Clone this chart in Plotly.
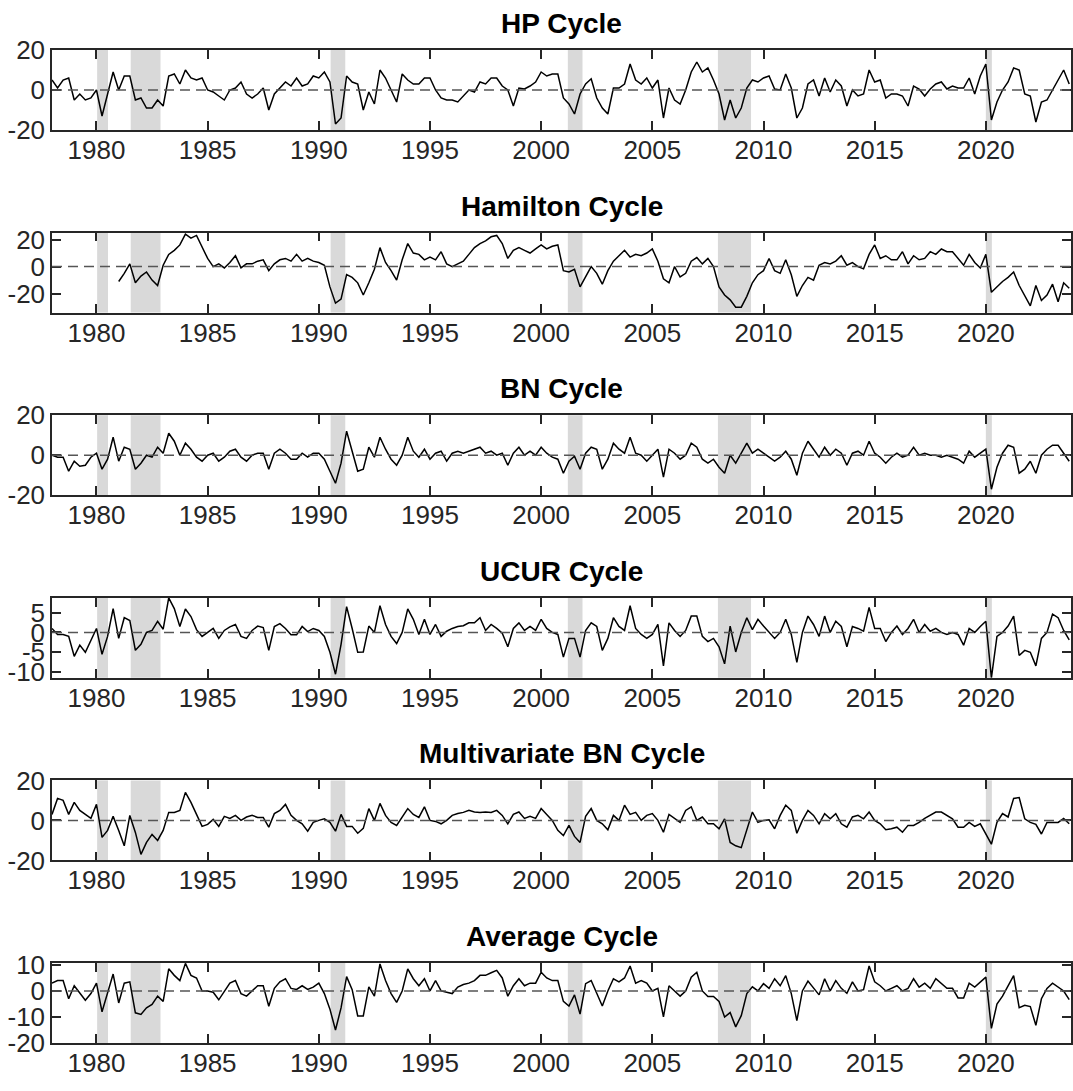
import numpy as np
import plotly.graph_objects as go
from plotly.subplots import make_subplots

# quarterly grid 1978Q1 .. 2023Q4 (decimal years)
years = np.arange(1978, 2024, 0.25)

titles = ["HP Cycle", "Hamilton Cycle", "BN Cycle", "UCUR Cycle",
          "Multivariate BN Cycle", "Average Cycle"]

hp = [
    5, 1, 5, 6,   -5, -2, -5, -4,   0, -13, -2, 9,   0, 7, 7, -5,
    -4, -9, -9, -5,   -8, 7, 8, 3,   10, 6, 5, 6,   0, -1, -3, -5,
    0, 1, 4, -2,   -4, -2, 1, -10,   -2, 1, 4, 2,   6, 2, 3, 7,
    6, 9, 4, -17,   -14, 7, 4, 3,   -10, -1, -7, 10,   6, 0, -6, 8,
    5, 3, 3, 6,   6, 0, -4, -5,   -5, -6, -3, 0,   -1, 4, 3, 6,
    6, 2, 0, -8,   1, 0.5, 2, 4,   9, 7, 8, 8,   -4, -7, -12, -2,
    3, 5.6, -4, -9,   -12, 1, 1, 3,   13, 5, 3, 6,   1, 5, -14, 1,
    -5, -7, 0, 9,   14, 9, 11, 5,   -2, -15, -5, -14,   -9, 1, 5, 4,
    6, 7, 0.5, 0,   8, 1, -14, -9,   3, 5, -3, 6,   -1, 5, 2, -8,
    0, -3, -2, 10,   4, 5, -4, -2,   -2, -3, -8, 2,   0.5, -3, 0.5, 3,
    4, 0.5, 2, 1,   1, 6, -2, 7,   13, -15, -6, 0,   4, 11, 10, -2,
    -3, -16, -6, -5,   0, 5, 10, 3,
]

hamilton = [
    None, None, None, None,   None, None, None, None,   None, None, None, None,
    -11, -5, 2, -12,   -7, -4, -10, -14,   1, 9, 12, 16,   24, 21, 23, 15,
    6, 0, 2, -1,   3, 8, -1, 2,   2, 4, 5, -3,   2, 5, 6, 4,
    9, 4, 6, 4,   3, 1, -15, -27,   -24, -6, -8, -12,   -21, -12, -2, 14,
    3, -3, -10, 5,   17, 10, 9, 5,   7, 5, 11, 2,   0, 2, 4, 9,
    14, 17, 19, 22,   23, 17, 6, 12,   14, 12, 10, 13,   16, 13, 15, 16,
    -3, -4, -2, -15,   -8, 0, -5, -13,   -3, 4, 8, 12,   7, 9, 8, 10,
    13, 4, -9, -12,   0, -7.7, -5, 4,   6.7, 2, 6, 0,   -15, -21, -24.6, -30,
    -30, -22, -12, -6,   -3, 6, -3, -5,   5, -6, -22, -14,   -8, -10, 1, 3,
    2, 4, 8, 1,   3, 0, -1.7, 9,   16, 6, 8, 5,   5, 11, 2, 8,
    5, 6, 11, 9,   13, 11, 11, 6,   1, 9, 3, -1,   9, -19, -15, -11,
    -8, -4, -14, -22,   -29, -14, -25, -21,   -13, -26, -12, -16,
]

bn = [
    0, -1, -1, -8,   -3, -5.5, -5, -1,   1, -7, -2, 9,   -3, 4, 3, -7,
    -4, 0, -1, 4,   1, 11, 7, 0,   6, 3, -1, -3,   0, 1, -3, -1,
    2, 3, -1, -3,   0, 1, 1, -7,   1, 3, 1, -2,   -2, 1, -1, 1,
    1, -2, -8, -14,   -4, 12, 2, -8,   -7, 4, -1, 9,   3, -2, -5, 0,
    9, 2, -1, 3,   -2, 1, 2, -3,   1, 2, 1, 2,   3, 4, 1, 2,
    0, 1, -5, 1,   4, 0, 2, 0,   4, 1, -1, -2,   -9, -3, -0.5, -7,
    1, 4, 3, -7,   -2, 6, 3, 1,   9, 1, 0, -3,   0, 3, -11, 3,
    1, -2, 0, 6,   4, -2, -4, -2,   -6, -9, 0, -4,   1, 6, 1, 3,
    1, -1, -3, -1,   2, -2, -10, 1,   7, 3, -1, 4,   0, 3, 1, -5,
    1, 2, 0, 7,   1, -1, -4, -1,   1, -1, 0, 4,   0, 1, 0, 0,
    -1, 0, -1, -2,   -4, 2, -1, 1,   3, -17, -6, 1,   5, 4, -9, -7,
    -3, -9, 0, 3,   5, 5, 1, -3,
]

ucur = [
    1, -0.5, -0.5, -1,   -6, -3.2, -5, -2,   1, -5.5, -1, 6,   -1.5, 3.7, 3, -4.5,
    -3, 0, 0.5, 2.8,   0.8, 8.7, 6, 1.5,   5.9, 4, 0.7, -1,   0, 1, -1.5, 0.5,
    1.4, 2, -1, -1.5,   0.5, 1.6, 1.2, -4.5,   1.5, 2.2, 1, -0.6,   -0.6, 1.5, 0.2, 1,
    0.5, -1, -5, -10.5,   -3, 6.5, 1, -5,   -4.9, 1.6, 0, 6.7,   2, -1, -2.8, 0,
    5.9, 3.3, -0.5, 3.3,   -0.5, 2, -1, 0.3,   1, 1.5, 1.7, 2.4,   2.4, 3.7, 0.5, 2,
    1, -0.2, -3.6, 1,   2.4, 0.5, 1.5, 0.5,   3.3, 1, 0, -0.5,   -6.2, -1.5, -1.5, -6.2,
    0.5, 2.4, 1.5, -4.5,   -1.5, 3.7, 1.5, 0.5,   6.7, 1, -0.5, -1.5,   -0.5, 2, -8.4, 2.4,
    0.5, -1, 0.5, 4.1,   4.1, -1, -2.3, -1.5,   -3.6, -7.9, 1.6, -4.9,   0, 3.7, 0.7, 3.3,
    1.6, 0, -1.5, 0,   3.3, -0.5, -7.5, 0,   4.1, 2, -1, 4.1,   0, 2.8, 1.5, -3.6,
    1.5, 1, 0.3, 6.3,   1, 1, -2.3, 0,   1.6, -0.5, 1, 3.3,   0, 2, 0.3, 1,
    0, -0.5, 0, -0.5,   -3.2, 1, 0, 1.5,   2.8, -11.4, -1, 0,   1.6, 4.1, -5.8, -4.5,
    -5, -8.4, -1.5, 0,   4.6, 3.7, 0.5, -1.9,
]

mbn = [
    3, 11, 10, 3,   9, 5, 3, 1,   8, -8.5, -5, 2,   -5, -12.7, 2.5, -6,
    -17, -11, -7, -10,   -5, 4, 4, 5,   14, 9, 3, -3,   -2, 0.5, -3, 2,
    1, 2.5, 0, 1.7,   2.5, 1.5, 1.5, -3.4,   3.4, 5, 8, 2.5,   0, -1.7, -5.4, -1,
    0, 0.8, -1, -5.4,   3, -3, -3, -6.4,   -4, 5.9, 0, 8.5,   2.5, -1, -2.5, 1.5,
    5.9, 3, 1.5, 6.8,   0, -0.5, -1.7, 0,   2.5, 3.4, 4, 5,   4.2, 4, 4.2, 4,
    5, 2.5, -1.7, 3,   4.2, 1, 2, 1,   5.9, 3, 0, -5,   -7.6, -2.5, -8, -11,
    2, 5.9, 0, -1.7,   -4.7, 2.5, 0, 7.6,   3, 4, 0, 2.5,   3.4, 0, -5.9, 3,
    1, -1, 5, 6.8,   0, 1.7, -1.7, -1.7,   -4.2, 0.8, -11, -12.7,   -13.6, -4.2, 4.2, -1,
    0, 0.3, -4.2, 2.5,   7.6, 5, -6.4, 0,   5, 2.5, -1.7, 3.4,   0.8, 3.4, -1.7, -3.4,
    1.7, 2.5, 0.8, 4.2,   0, -1.7, -4.7, -4.2,   -3.4, -5.9, -2.5, -2.5,   -1, 1, 2.5, 4.2,
    4.2, 2.5, 0.8, -3.4,   -3.4, -1, -3, -1.7,   -6.8, -11.9, -1, 3.4,   1.7, 11, 11.4, 0.8,
    -1, -2, -6.8, -1,   -1, -1, 1, -1.7,
]

average = [
    3, 4, 4, -3,   2, -1, -3.6, -1,   3, -8, -1, 6.5,   -4.6, 3, 3.5, -8.4,
    -9, -6.5, -5.2, -2,   -4, 8.5, 6, 4,   10.6, 6, 5, 0,   0, -0.5, -3.4, 0,
    3, 4, -1, -2,   0, 2, 2, -5.9,   1, 3.5, 4.7, 1,   0.6, 2, 0.6, 1.5,
    3, -1, -7, -15,   -6.5, 5.5, 0.5, -9.6,   -9.6, 1.6, -2, 10.4,   4, -1, -4.4, 0,
    8.5, 4.7, 2, 4.7,   0, 4, 0, -0.5,   -1, 1.5, 2.5, 3,   4, 6, 6, 7,
    7.9, 5, -2, 2,   4.7, 2, 3, 3,   7.2, 5, 4, 4,   -4, -5.8, -1.5, -8.9,
    2.8, 4, -1, -5.8,   0, 4.7, 3.5, 5,   9.6, 3, 4, 3,   0, 1, -10, 2,
    0, -2, 0, 5.3,   7.2, 0, -2.1, -2.1,   -4, -10, -8.3, -13.8,   -9.5, -1, 1.6, 0,
    2.8, 1, 4.7, 2,   5.9, -1, -11.4, 0,   3.8, 1, -1.5, 4.7,   0, 4, 1, -0.9,
    3.5, 0, 0.5, 9.6,   3.5, 2, 0, 1,   2, 0, 1, 4.7,   1.5, 3, 1, 4.7,
    3, 1, 1, -2.7,   -2.7, 3, 1.5, 3.5,   5.3, -14.4, -5, -2,   2.2, 5.9, -6.4, -5.5,
    -6, -13.2, -3, 1,   3, 1.6, 0, -3.3,
]

series = [hp, hamilton, bn, ucur, mbn, average]

# axis settings per panel
y_ranges = [[-20, 20], [-34, 25.1], [-20, 20], [-11.4, 8.7], [-20, 20], [-20, 10.75]]
y_ticks = [[-20, 0, 20], [-20, 0, 20], [-20, 0, 20], [-10, -5, 0, 5],
           [-20, 0, 20], [-20, -10, 0, 10]]
y_ticktext = [["-20", "0", "20"], ["-20", "0", "20"], ["-20", "0", "20"],
              ["-10", "-5", "0", "5"], ["-20", "0", "20"], ["-20", "-10", "0", "10"]]
x_range = [1978, 2023.83]
x_ticks = [1980, 1985, 1990, 1995, 2000, 2005, 2010, 2015, 2020]

# NBER recession periods (decimal years)
rec_start = [1980.03, 1981.54, 1990.53, 2001.2, 2007.95, 2020.0]
rec_end = [1980.52, 1982.88, 1991.19, 2001.86, 2009.44, 2020.27]

W, H = 1073, 1091
top0, step, ph = 50, 182.6, 80

fig = make_subplots(rows=6, cols=1)

tick_font = dict(family="Liberation Sans, Arial", size=26, color="#262626")
axcol = "#262626"

for i, (name, vals) in enumerate(zip(titles, series)):
    r = i + 1
    top = top0 + step * i
    bot = top + ph
    dom = [1 - bot / H, 1 - top / H]
    xa = "xaxis" if i == 0 else f"xaxis{r}"
    ya = "yaxis" if i == 0 else f"yaxis{r}"
    xref = "x" if i == 0 else f"x{r}"
    yref = "y" if i == 0 else f"y{r}"

    for s, e in zip(rec_start, rec_end):
        fig.add_shape(type="rect", xref=xref, yref=f"{yref} domain",
                      x0=s, x1=e, y0=0, y1=1, fillcolor="#d9d9d9",
                      line=dict(width=0), layer="below")
    fig.add_shape(type="line", xref=f"{xref} domain", yref=yref,
                  x0=0, x1=1, y0=0, y1=0,
                  line=dict(color="#555555", width=1.5, dash="10px,6px"), layer="above")

    fig.add_trace(go.Scatter(x=years, y=vals, mode="lines",
                             line=dict(color="black", width=1.5),
                             connectgaps=False, showlegend=False), row=r, col=1)

    fig.layout[ya].update(domain=dom, range=y_ranges[i], tickvals=y_ticks[i],
                          ticktext=y_ticktext[i], automargin=False,
                          ticks="inside", ticklen=9, tickwidth=1.5, tickcolor=axcol,
                          showline=True, linecolor=axcol, linewidth=1.5, mirror="ticks",
                          showgrid=False, zeroline=False, tickfont=tick_font)
    fig.layout[xa].update(range=x_range, tickvals=x_ticks, automargin=False,
                          ticks="inside", ticklen=9, tickwidth=1.5, tickcolor=axcol,
                          showline=True, linecolor=axcol, linewidth=1.5, mirror="ticks",
                          showgrid=False, zeroline=False, tickfont=tick_font,
                          ticklabelstandoff=-4)

    fig.add_annotation(text=f"<b>{name}</b>", xref=f"{xref} domain", yref=f"{yref} domain",
                       x=0.5, y=1, xanchor="center", yanchor="bottom", yshift=9,
                       showarrow=False,
                       font=dict(family="Liberation Sans, Arial", size=28, color="black"))

fig.update_layout(width=W, height=H, margin=dict(l=52, r=2, t=0, b=0),
                  paper_bgcolor="white", plot_bgcolor="white")

fig.write_html("out.html")
